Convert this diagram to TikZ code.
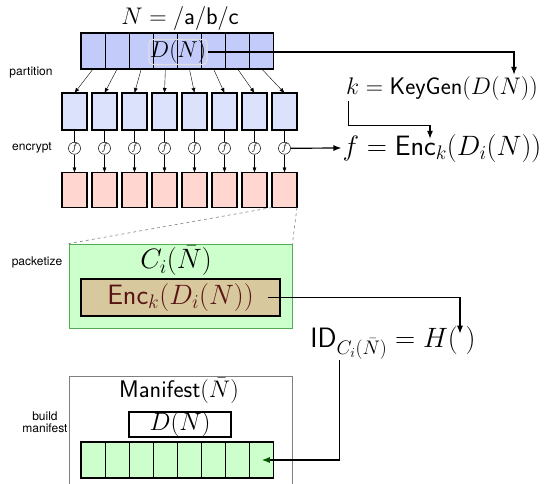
\RequirePackage{fix-cm}
\documentclass[tikz,border=0pt]{standalone}
\usepackage{amsmath}
\usepackage{fontspec}
\newfontfamily\lblfont{TeX Gyre Heros}
\usepackage{xcolor}
\usetikzlibrary{arrows.meta,positioning}
\definecolor{nameblue}{HTML}{C3CBFA}
\definecolor{chunkblue}{HTML}{DDE2FC}
\definecolor{chunkred}{HTML}{FFD6D0}
\definecolor{pktgreen}{HTML}{CCFFCC}
\definecolor{enctan}{HTML}{D8C89E}
\definecolor{enctext}{HTML}{5A1414}
\newcommand{\fsz}[1]{\fontsize{#1}{#1}\selectfont}
\tikzset{
    cell/.style={draw, line width=1.2pt, minimum width=24.1pt, minimum height=36pt,
    inner sep=0pt, outer sep=0pt},
    chunk/.style={draw, line width=1.2pt, minimum width=25pt, minimum height=37pt,
    inner sep=0pt, outer sep=0pt},
    fnode/.style={draw, circle, line width=0.5pt, minimum size=12pt, inner sep=0pt,
    font=\fsz{10}},
    steplabel/.style={font=\lblfont\fsz{12}, align=center},
    eqn/.style={inner sep=1pt},
}

\begin{document}
\begin{tikzpicture}[
            x=1pt, y=-1pt,
            >={Latex[length=5pt,width=4pt]},
            flow/.style={-{Latex[length=8pt,width=6pt]}, line width=1.2pt},
            node distance=0pt
        ]
            \path[use as bounding box, clip] (0,0) rectangle (557,483);
            % name and its partition
            \node[eqn, font=\fsz{24}] (name) at (180,18) {$N = /\mathsf{a}/\mathsf{b}/\mathsf{c}$};
            \node[cell, fill=nameblue] (t1) at (93.05,51) {};
            \node[cell, fill=nameblue, right=of t1] (t2) {};
            \node[cell, fill=nameblue, right=of t2] (t3) {};
            \node[cell, fill=nameblue, right=of t3] (t4) {};
            \node[cell, fill=nameblue, right=of t4] (t5) {};
            \node[cell, fill=nameblue, right=of t5] (t6) {};
            \node[cell, fill=nameblue, right=of t6] (t7) {};
            \node[cell, fill=nameblue, right=of t7] (t8) {};
            \node[draw=white!75!gray, line width=1.2pt, rounded corners=4pt, inner sep=1pt,
                font=\fsz{23}] (dn) at (178,52) {$D(N)$};
            \node[steplabel] (lpart) at (31,73) {partition};
            % plain chunks
            \node[chunk, fill=chunkblue] (p1) at (74.5,111.5) {};
            \node[chunk, fill=chunkblue, right=5pt of p1] (p2) {};
            \node[chunk, fill=chunkblue, right=5pt of p2] (p3) {};
            \node[chunk, fill=chunkblue, right=5pt of p3] (p4) {};
            \node[chunk, fill=chunkblue, right=5pt of p4] (p5) {};
            \node[chunk, fill=chunkblue, right=5pt of p5] (p6) {};
            \node[chunk, fill=chunkblue, right=5pt of p6] (p7) {};
            \node[chunk, fill=chunkblue, right=5pt of p7] (p8) {};
            \draw[->] (t1.south) -- (p1.north);
            \draw[->] (t2.south) -- (p2.north);
            \draw[->] (t3.south) -- (p3.north);
            \draw[->] (t4.south) -- (p4.north);
            \draw[->] (t5.south) -- (p5.north);
            \draw[->] (t6.south) -- (p6.north);
            \draw[->] (t7.south) -- (p7.north);
            \draw[->] (t8.south) -- (p8.north);
            % encryption
            \node[steplabel] (lenc) at (32,148) {encrypt};
            \node[fnode, below=12pt of p1] (f1) {$f$};
            \node[fnode, below=12pt of p2] (f2) {$f$};
            \node[fnode, below=12pt of p3] (f3) {$f$};
            \node[fnode, below=12pt of p4] (f4) {$f$};
            \node[fnode, below=12pt of p5] (f5) {$f$};
            \node[fnode, below=12pt of p6] (f6) {$f$};
            \node[fnode, below=12pt of p7] (f7) {$f$};
            \node[fnode, below=12pt of p8] (f8) {$f$};
            \node[chunk, fill=chunkred, minimum height=35pt, below=18pt of f1] (e1) {};
            \node[chunk, fill=chunkred, minimum height=35pt, below=18pt of f2] (e2) {};
            \node[chunk, fill=chunkred, minimum height=35pt, below=18pt of f3] (e3) {};
            \node[chunk, fill=chunkred, minimum height=35pt, below=18pt of f4] (e4) {};
            \node[chunk, fill=chunkred, minimum height=35pt, below=18pt of f5] (e5) {};
            \node[chunk, fill=chunkred, minimum height=35pt, below=18pt of f6] (e6) {};
            \node[chunk, fill=chunkred, minimum height=35pt, below=18pt of f7] (e7) {};
            \node[chunk, fill=chunkred, minimum height=35pt, below=18pt of f8] (e8) {};
            \draw (p1) -- (f1); \draw[->] (f1) -- (e1);
            \draw (p2) -- (f2); \draw[->] (f2) -- (e2);
            \draw (p3) -- (f3); \draw[->] (f3) -- (e3);
            \draw (p4) -- (f4); \draw[->] (f4) -- (e4);
            \draw (p5) -- (f5); \draw[->] (f5) -- (e5);
            \draw (p6) -- (f6); \draw[->] (f6) -- (e6);
            \draw (p7) -- (f7); \draw[->] (f7) -- (e7);
            \draw (p8) -- (f8); \draw[->] (f8) -- (e8);
            % key and cipher
            \node[eqn, font=\fsz{24}] (kg) at (442,88) {$k = \mathsf{KeyGen}(D(N))$};
            \node[eqn, font=\fsz{28}] (enc) at (442,148) {$f = \mathsf{Enc}_k(D_i(N))$};
            \draw[flow] (dn.east) -| ([xshift=72pt]kg.north);
            \draw[flow] ([xshift=4pt]kg.south west) -- ++(0,24) -| ([xshift=-12pt,yshift=-6pt]enc.north);
            \draw[flow] (f8.east) -- (enc.west);
            % packet
            \node[steplabel] (lpkt) at (37,262) {packetize};
            \node[draw=green!35!gray, line width=0.8pt, fill=pktgreen, minimum width=223pt,
                minimum height=84pt, inner sep=0pt] (pk) at (180.5,286) {};
            \node[eqn, font=\fsz{28}] (ci) at (176,261) {$C_i(\bar{N})$};
            \node[draw, line width=1.2pt, fill=enctan, text=enctext, minimum width=199pt,
                minimum height=37pt, inner sep=0pt, font=\fsz{28}] (ek) at (180.5,297.5)
                {$\mathsf{Enc}_k(D_i(N))$};
            \draw[dashed, gray, line width=0.6pt] (e8.south west) -- (pk.north west);
            \draw[dashed, gray, line width=0.6pt] (e8.south east) -- (pk.north east);
            \node[eqn, font=\fsz{28}] (id) at (393,343) {$\mathsf{ID}_{C_i(\bar{N})} = H(\;)$};
            \draw[flow] ([xshift=-13pt]ek.east) -| ([xshift=67pt,yshift=-8pt]id.north);
            % manifest
            \node[steplabel] (lman) at (45,422) {build\\manifest};
            \node[draw=gray, line width=0.8pt, fill=white, minimum width=223pt,
                minimum height=160pt, inner sep=0pt, anchor=north] (mb) at (180.5,376) {};
            \node[eqn, font=\fsz{24}] (mt) at (179,391) {$\mathsf{Manifest}(\bar{N})$};
            \node[draw, line width=1.2pt, minimum width=102pt, minimum height=25pt,
                inner sep=0pt, font=\fsz{25}] (dm) at (180,424.5) {$D(N)$};
            \node[cell, fill=pktgreen] (m1) at (93.05,460) {};
            \node[cell, fill=pktgreen, right=of m1] (m2) {};
            \node[cell, fill=pktgreen, right=of m2] (m3) {};
            \node[cell, fill=pktgreen, right=of m3] (m4) {};
            \node[cell, fill=pktgreen, right=of m4] (m5) {};
            \node[cell, fill=pktgreen, right=of m5] (m6) {};
            \node[cell, fill=pktgreen, right=of m6] (m7) {};
            \node[cell, fill=pktgreen, right=of m7] (m8) {};
            \draw[flow, -{Latex[length=8pt,width=6pt,color=green!35!black]}]
                ([xshift=30pt]id.south west) |- (m8.center);
        \end{tikzpicture}
\end{document}
